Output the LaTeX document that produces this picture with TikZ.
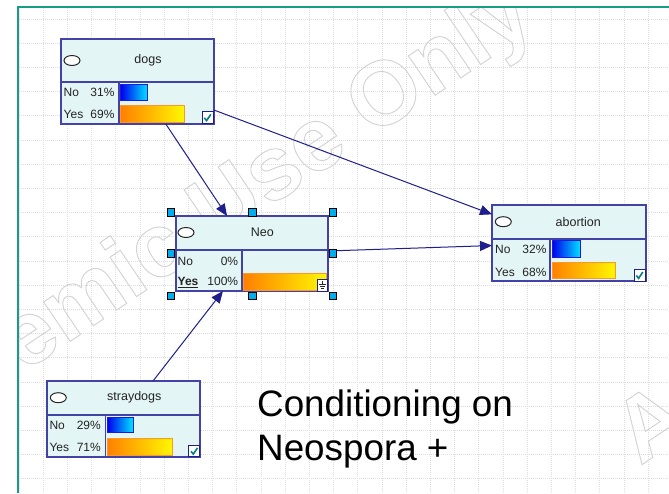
\documentclass[tikz,border=0pt]{standalone}
\usepackage{fontspec}
\setmainfont{Liberation Sans}
\usetikzlibrary{arrows.meta}

\definecolor{frameteal}{RGB}{22,158,130}
\definecolor{gridgray}{RGB}{222,222,222}
\definecolor{markgray}{RGB}{210,210,210}
\definecolor{boxedge}{RGB}{66,66,168}
\definecolor{boxfill}{RGB}{228,245,246}
\definecolor{linknavy}{RGB}{30,30,140}
\definecolor{barblueL}{RGB}{0,0,238}
\definecolor{barblueR}{RGB}{0,230,255}
\definecolor{barblueE}{RGB}{25,25,225}
\definecolor{barorL}{RGB}{255,128,0}
\definecolor{barorR}{RGB}{255,248,0}
\definecolor{barorE}{RGB}{255,150,40}
\definecolor{checkteal}{RGB}{0,128,128}
\definecolor{txtdark}{RGB}{35,35,35}

% stroked (outline) text for the watermark
\newcommand\outlinetext[1]{\special{pdf:literal direct 1 Tr 0.9 w}#1\special{pdf:literal direct 0 Tr}}

\tikzset{
  netbox/.style={rectangle, draw=boxedge, fill=boxfill, line width=1.2pt,
    inner sep=0pt, outer sep=0pt, anchor=north west},
  divline/.style={draw=boxedge, line width=1.2pt},
  stateoval/.style={draw=black!85, fill=white, line width=1pt},
  hdr/.style={inner sep=0pt, text=txtdark, font=\fontsize{12.5}{14}\selectfont},
  lbl/.style={inner sep=0pt, text=txtdark, font=\fontsize{12}{14}\selectfont,
    text height=8.6pt, text depth=0pt},
  bluebar/.style={draw=barblueE, line width=0.8pt, left color=barblueL, right color=barblueR},
  orbar/.style={draw=barorE, line width=0.8pt, left color=barorL, right color=barorR},
  link/.style={draw=linknavy, line width=1pt, -{Triangle[length=12pt,width=10pt]}},
  handle/.style={rectangle, fill=cyan, draw=black, line width=0.6pt,
    minimum size=7.5pt, inner sep=0pt},
  gridline/.style={draw=gridgray, line width=0.9pt, dash pattern=on 1pt off 1pt},
  watermark/.style={anchor=base west, inner sep=0pt, text=markgray,
    font=\fontsize{90}{90}\selectfont\bfseries},
  bigtext/.style={anchor=base west, inner sep=0pt, text=black,
    font=\fontsize{36.8}{44}\selectfont},
  tickbox/.pic={
    \draw[fill=white, draw=linknavy, line width=0.8pt] (0,0) rectangle (11,11.5);
    \draw[checkteal, line width=1.6pt] (2.3,6) -- (4.6,8.8) -- (8.8,2.6);
  },
  groundbox/.pic={
    \draw[fill=white, draw=linknavy, line width=0.8pt] (0,0) rectangle (10,11.7);
    \draw[black!85, line width=0.7pt] (5,2) -- (5,5)
      (1.5,5) -- (8.5,5) (2.5,7) -- (7.5,7) (3.5,9) -- (6.5,9);
  }
}

\begin{document}
\begin{tikzpicture}[x=1pt,y=-1pt]
\useasboundingbox (0,0) rectangle (669,493);
\fill[white] (0,0) rectangle (669,493);

% dotted work-area grid
\foreach \i in {0,...,26} \draw[gridline] ({19+24.2*\i},8) -- ({19+24.2*\i},493);
\foreach \j in {0,...,19} \draw[gridline] (18.7,{19+24.2*\j}) -- (669,{19+24.2*\j});

% watermark
\begin{scope}
  \clip (18.7,8) rectangle (669,493);
  \node[watermark, rotate=34] (wm1) at (-159,496) {\outlinetext{Academic Use Only}};
  \node[watermark, rotate=34] (wm2) at (640,466) {\outlinetext{Academic Use Only}};
\end{scope}

% frame of the work area
\draw[frameteal, line width=2pt] (17.7,493) -- (17.7,7) -- (669,7);

% ---- dogs
\begin{scope}[shift={(61,39)}]
  \node[netbox, minimum width=153pt, minimum height=85pt] (dogs) at (0,0) {};
  \draw[divline] (0,43) -- (153,43) (58,43) -- (58,85);
  \draw[stateoval] (11,21.5) ellipse [x radius=8, y radius=5];
  \node[hdr] (dogs-t) at (87,21.5) {dogs};
  \node[lbl, anchor=west] (dogs-n) at (2.5,53) {No};
  \node[lbl, anchor=east] (dogs-np) at (53.7,53) {31\%};
  \node[lbl, anchor=west] (dogs-y) at (2.5,75) {Yes};
  \node[lbl, anchor=east] (dogs-yp) at (53.7,75) {69\%};
  \draw[bluebar] (59.7,45) rectangle (86.7,61.7);
  \draw[orbar] (59.7,66.7) rectangle (123,83);
  \pic at (141,72.8) {tickbox};
\end{scope}

% ---- Neo
\begin{scope}[shift={(176,216)}]
  \node[netbox, minimum width=152pt, minimum height=75pt] (neo) at (0,0) {};
  \draw[divline] (0,34) -- (152,34) (66,34) -- (66,75);
  \draw[stateoval] (10,16.5) ellipse [x radius=8, y radius=5];
  \node[hdr] (neo-t) at (86.3,16.5) {Neo};
  \node[lbl, anchor=west] (neo-n) at (1.5,44.7) {No};
  \node[lbl, anchor=east] (neo-np) at (62.3,44.7) {0\%};
  \node[lbl, anchor=west] (neo-y) at (1.5,65) {\underline{\textbf{Yes}}};
  \node[lbl, anchor=east] (neo-yp) at (62.3,65) {100\%};
  \draw[orbar] (67.5,57) rectangle (150.5,74);
  \pic at (141.5,63.3) {groundbox};
\end{scope}

% ---- abortion
\begin{scope}[shift={(492,205)}]
  \node[netbox, minimum width=154pt, minimum height=76pt] (abortion) at (0,0) {};
  \draw[divline] (0,34) -- (154,34) (58,34) -- (58,76);
  \draw[stateoval] (11.3,16.7) ellipse [x radius=8, y radius=5];
  \node[hdr] (abortion-t) at (86.3,16.7) {abortion};
  \node[lbl, anchor=west] (abortion-n) at (3,44.3) {No};
  \node[lbl, anchor=east] (abortion-np) at (54.7,44.3) {32\%};
  \node[lbl, anchor=west] (abortion-y) at (3,67) {Yes};
  \node[lbl, anchor=east] (abortion-yp) at (54.7,67) {68\%};
  \draw[bluebar] (60.3,35.7) rectangle (88.7,52);
  \draw[orbar] (60.3,57.7) rectangle (123,73.7);
  \pic at (142,64.5) {tickbox};
\end{scope}

% ---- straydogs
\begin{scope}[shift={(47,381)}]
  \node[netbox, minimum width=153pt, minimum height=76pt] (straydogs) at (0,0) {};
  \draw[divline] (0,34) -- (153,34) (58.5,34) -- (58.5,76);
  \draw[stateoval] (11.3,16.7) ellipse [x radius=8, y radius=5];
  \node[hdr] (straydogs-t) at (87.3,16.7) {straydogs};
  \node[lbl, anchor=west] (straydogs-n) at (2.3,44) {No};
  \node[lbl, anchor=east] (straydogs-np) at (54,44) {29\%};
  \node[lbl, anchor=west] (straydogs-y) at (2.3,66.3) {Yes};
  \node[lbl, anchor=east] (straydogs-yp) at (54,66.3) {71\%};
  \draw[bluebar] (60.3,36.3) rectangle (86.3,51.7);
  \draw[orbar] (60.3,57.7) rectangle (125.3,74);
  \pic at (141.7,64.3) {tickbox};
\end{scope}

% ---- links
\draw[link] (dogs) -- (neo);
\draw[link] (dogs) -- (abortion);
\draw[link] (neo) -- (abortion);
\draw[link] (straydogs) -- (neo);

% ---- selection handles round Neo
\foreach \hx/\hy/\hn in {171/212.3/1, 252.3/212.3/2, 332.7/212.3/3,
                         171/253.3/4, 332.7/253.3/5,
                         171/296/6, 252.3/296/7, 332.7/296/8}
  \node[handle] (sel\hn) at (\hx,\hy) {};

% ---- caption
\node[bigtext] (cond1) at (257,416.7) {Conditioning on};
\node[bigtext] (cond2) at (257,460.7) {Neospora +};
\end{tikzpicture}
\end{document}
